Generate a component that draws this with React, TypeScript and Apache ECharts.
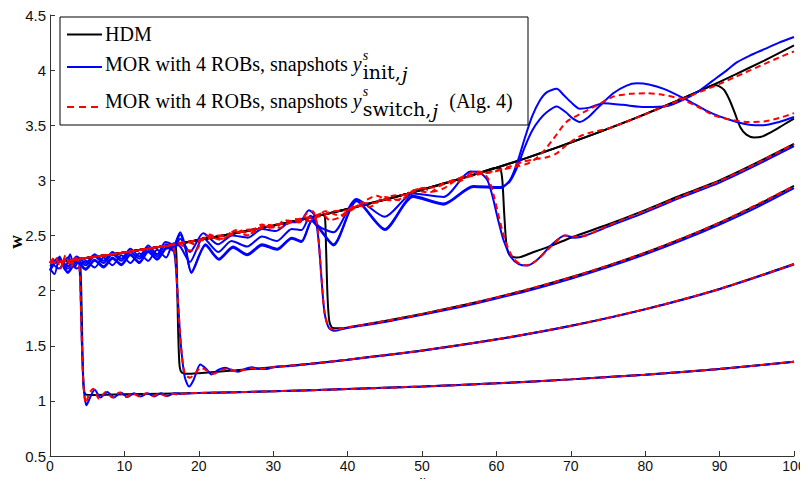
import React, { useEffect, useRef } from "react";
import * as echarts from "echarts";

// ---------- data ----------
const xTicks = [0, 10, 20, 30, 40, 50, 60, 70, 80, 90, 100];
const yTicks = [0.5, 1, 1.5, 2, 2.5, 3, 3.5, 4, 4.5];

const legendLabels = ["HDM", "MOR with 4 ROBs, snapshots ", "MOR with 4 ROBs, snapshots "];
const axisNames = { x: "x", y: "w" };

// HDM (black)
const hdmA = [[0,2.25],[2,2.268],[3.8,2.285],[4.05,2.25],[4.2,2.0],[4.35,1.5],[4.5,1.15],[4.75,1.06],[5.5,1.053],[10,1.059],[20,1.072],[30,1.087],[40,1.107],[50,1.13],[60,1.159],[70,1.195],[80,1.238],[90,1.29],[100,1.355]];
const hdmB = [[0,2.25],[4,2.287],[8,2.326],[12,2.368],[15,2.4],[16.6,2.418],[16.9,2.405],[17.05,2.2],[17.2,1.7],[17.4,1.33],[17.7,1.258],[18.5,1.245],[20,1.251],[25,1.277],[30,1.306],[35,1.337],[40,1.374],[50,1.457],[60,1.558],[70,1.681],[80,1.832],[90,2.016],[100,2.241]];
const hdmC = [[0,2.25],[4,2.287],[8,2.326],[12,2.368],[16,2.412],[20,2.459],[24,2.509],[28,2.562],[32,2.618],[35,2.663],[36.6,2.688],[36.95,2.67],[37.1,2.4],[37.3,1.95],[37.55,1.72],[38,1.66],[39,1.658],[40,1.666],[45,1.724],[50,1.789],[55,1.86],[60,1.938],[65,2.025],[70,2.121],[75,2.227],[80,2.344],[85,2.474],[90,2.617],[95,2.775],[100,2.95]];
const hdmD = [[0,2.25],[4,2.287],[8,2.326],[12,2.368],[16,2.412],[20,2.459],[24,2.509],[28,2.562],[32,2.618],[36,2.678],[40,2.741],[44,2.808],[48,2.879],[52,2.953],[56,3.032],[58,3.073],[60,3.115],[60.5,3.11],[60.8,3.0],[61.05,2.7],[61.35,2.42],[61.8,2.32],[62.8,2.3],[65,2.35],[67.5,2.41],[70,2.48],[75,2.6],[80,2.73],[85,2.87],[90,3.0],[95,3.16],[100,3.33]];
const hdmE = [[0,2.25],[4,2.287],[8,2.326],[12,2.368],[16,2.412],[20,2.459],[24,2.509],[28,2.562],[32,2.618],[36,2.678],[40,2.741],[44,2.808],[48,2.879],[52,2.953],[56,3.032],[60,3.115],[64,3.202],[68,3.295],[72,3.392],[76,3.494],[80,3.601],[84,3.714],[88,3.832],[89.3,3.865],[89.9,3.855],[90.6,3.82],[91.4,3.72],[92.1,3.6],[92.8,3.48],[93.6,3.415],[94.6,3.39],[95.6,3.395],[97,3.44],[98.5,3.5],[100,3.56]];
const hdmF = [[0,2.25],[4,2.287],[8,2.326],[12,2.368],[16,2.412],[20,2.459],[24,2.509],[28,2.562],[32,2.618],[36,2.678],[40,2.741],[44,2.808],[48,2.879],[52,2.953],[56,3.032],[60,3.115],[64,3.202],[68,3.295],[72,3.392],[76,3.494],[80,3.601],[84,3.714],[88,3.832],[92,3.957],[96,4.087],[100,4.224]];

// MOR, snapshots y_init (blue)
const romA = [[0,2.2],[0.6,2.15],[1.3,2.31],[2.0,2.19],[2.7,2.33],[3.3,2.21],[3.8,2.27],[4.05,2.1],[4.25,1.6],[4.5,1.15],[4.9,0.96],[5.45,1.04],[6.0,1.1],[6.8,1.03],[7.7,1.08],[8.6,1.03],[9.5,1.075],[10.4,1.035],[11.3,1.07],[12.2,1.04],[13.1,1.07],[14.0,1.04],[14.9,1.07],[15.8,1.045],[16.7,1.07],[17.6,1.063],[19,1.07],[20,1.072],[30,1.087],[40,1.107],[50,1.13],[60,1.159],[70,1.195],[80,1.238],[90,1.29],[100,1.355]];
const romB = [[0,2.25],[1.2,2.29],[2.4,2.22],[3.6,2.31],[4.8,2.25],[6.0,2.33],[7.2,2.27],[8.4,2.35],[9.6,2.29],[10.8,2.38],[12.0,2.31],[13.2,2.41],[14.4,2.33],[15.5,2.44],[16.3,2.42],[16.8,2.3],[17.2,1.9],[17.6,1.5],[18.1,1.22],[18.7,1.13],[19.3,1.19],[20.2,1.33],[21.0,1.29],[21.7,1.24],[22.6,1.28],[23.6,1.3],[24.5,1.275],[25.3,1.265],[26.2,1.29],[27.1,1.305],[28.1,1.29],[29.1,1.29],[30.2,1.31],[32,1.315],[35,1.335],[40,1.372],[50,1.455],[60,1.556],[70,1.679],[80,1.83],[90,2.013],[100,2.237]];
const romC = [[0,2.22],[1.2,2.27],[2.4,2.2],[3.6,2.28],[4.8,2.23],[6.0,2.31],[7.2,2.25],[8.4,2.33],[9.6,2.27],[10.8,2.35],[12.0,2.29],[13.2,2.38],[14.4,2.31],[15.6,2.42],[16.6,2.36],[17.5,2.47],[18.8,2.35],[20.6,2.52],[22.6,2.42],[24.5,2.5],[26.6,2.48],[28.5,2.56],[30.3,2.54],[32.3,2.62],[33.5,2.62],[34.8,2.73],[35.6,2.68],[36.1,2.45],[36.5,2.1],[36.9,1.8],[37.5,1.66],[38.3,1.635],[39.5,1.655],[45,1.715],[50,1.78],[55,1.85],[60,1.928],[65,2.013],[70,2.108],[75,2.213],[80,2.329],[85,2.458],[90,2.6],[95,2.756],[100,2.93]];
const romD = [[0,2.27],[1.2,2.2],[2.4,2.3],[3.6,2.2],[4.8,2.27],[6.0,2.21],[7.2,2.3],[8.4,2.23],[9.6,2.32],[10.8,2.25],[12.0,2.34],[13.2,2.27],[14.4,2.37],[15.6,2.3],[16.6,2.43],[17.5,2.4],[18.8,2.26],[20.6,2.48],[22.6,2.35],[24.4,2.45],[26.5,2.4],[28.5,2.49],[30.5,2.45],[32.5,2.56],[33.8,2.55],[35,2.68],[36.2,2.58],[38.1,2.53],[41.2,2.83],[45,2.67],[48.8,2.88],[52.9,2.85],[56.5,3.08],[57.8,3.07],[58.8,3.0],[59.5,2.85],[60.2,2.65],[61,2.45],[62,2.3],[63,2.24],[64.1,2.227],[65.5,2.28],[67.5,2.42],[69.2,2.5],[70.5,2.48],[72,2.5],[75,2.58],[80,2.71],[85,2.85],[90,2.98],[95,3.14],[100,3.31]];
const romE = [[0,2.19],[1.2,2.3],[2.4,2.17],[3.6,2.27],[4.8,2.2],[6.0,2.28],[7.2,2.22],[8.4,2.3],[9.6,2.24],[10.8,2.33],[12.0,2.26],[13.2,2.36],[14.4,2.29],[15.6,2.39],[16.6,2.4],[17.5,2.53],[18.2,2.4],[19.0,2.17],[20.9,2.42],[22.7,2.29],[24.6,2.4],[26.5,2.33],[28.5,2.42],[30.5,2.38],[32.5,2.48],[33.8,2.45],[35.2,2.64],[36.3,2.56],[38.1,2.42],[41.2,2.82],[45,2.56],[48.8,2.86],[52.9,2.79],[56.9,2.95],[60.5,2.94],[61.8,2.99],[62.8,3.12],[63.8,3.3],[64.8,3.45],[65.8,3.55],[66.8,3.62],[68.1,3.67],[69.3,3.62],[70.3,3.56],[71.2,3.53],[72.3,3.57],[73.5,3.65],[75.7,3.79],[77.5,3.86],[78.9,3.88],[80.5,3.87],[82.5,3.83],[85.6,3.73],[88,3.64],[90,3.58],[92.3,3.53],[94,3.505],[95.9,3.5],[98,3.53],[100,3.575]];
const romF = [[0,2.18],[1.2,2.29],[2.4,2.16],[3.6,2.26],[4.8,2.19],[6.0,2.27],[7.2,2.21],[8.4,2.29],[9.6,2.23],[10.8,2.32],[12.0,2.25],[13.2,2.35],[14.4,2.28],[15.6,2.38],[16.6,2.39],[17.5,2.51],[18.2,2.38],[19.0,2.16],[20.9,2.41],[22.7,2.28],[24.6,2.39],[26.5,2.32],[28.5,2.41],[30.5,2.37],[32.5,2.47],[33.8,2.44],[35.2,2.63],[36.3,2.55],[38.1,2.41],[41.2,2.81],[45,2.55],[48.8,2.85],[52.9,2.78],[56.9,2.94],[60.5,2.93],[61.8,3.0],[62.8,3.16],[63.8,3.38],[64.8,3.58],[65.8,3.72],[66.8,3.8],[68.1,3.83],[69.1,3.77],[70,3.71],[71.2,3.65],[72.5,3.66],[74.4,3.7],[77,3.685],[80,3.665],[83,3.675],[85.1,3.73],[87,3.8],[89,3.9],[91,4.0],[92.3,4.07],[94,4.13],[96,4.19],[98,4.25],[100,4.3]];

// MOR, snapshots y_switch (red dashed)
const swA = [[0,2.25],[0.7,2.31],[1.4,2.2],[2.1,2.32],[2.8,2.21],[3.4,2.3],[3.85,2.26],[4.05,2.1],[4.25,1.6],[4.5,1.15],[4.8,0.98],[5.3,1.07],[5.8,1.11],[6.6,1.02],[7.5,1.08],[8.4,1.03],[9.3,1.075],[10.2,1.035],[11.1,1.07],[12.0,1.04],[12.9,1.07],[13.8,1.045],[14.7,1.065],[15.6,1.045],[16.4,1.065],[17.2,1.058],[18.5,1.07],[20,1.072],[30,1.087],[40,1.107],[50,1.13],[60,1.159],[70,1.195],[80,1.238],[90,1.29],[100,1.355]];
const swB = [[0,2.25],[0.7,2.3],[1.4,2.22],[2.1,2.29],[2.8,2.25],[4,2.287],[8,2.326],[12,2.368],[15,2.4],[16.3,2.41],[16.8,2.33],[17.2,1.9],[17.6,1.5],[18.1,1.25],[18.8,1.21],[19.5,1.25],[20.3,1.3],[21.2,1.27],[22.0,1.245],[23.0,1.28],[24,1.29],[25,1.27],[26,1.28],[27,1.295],[28,1.29],[30,1.306],[35,1.337],[40,1.374],[50,1.457],[60,1.558],[70,1.681],[80,1.832],[90,2.016],[100,2.241]];
const swC = [[0,2.25],[4,2.287],[8,2.326],[12,2.368],[16,2.412],[17.5,2.42],[18.5,2.37],[19.5,2.36],[20.5,2.46],[21.5,2.51],[22.5,2.47],[23.5,2.47],[24.5,2.54],[25.5,2.53],[26.5,2.5],[27.5,2.56],[28.5,2.6],[29.5,2.57],[30.5,2.58],[31.5,2.64],[32.5,2.63],[33.5,2.62],[34.5,2.7],[35.3,2.72],[35.9,2.6],[36.4,2.2],[36.9,1.8],[37.5,1.665],[38.3,1.645],[39.5,1.66],[45,1.724],[50,1.789],[60,1.938],[70,2.121],[80,2.344],[90,2.617],[100,2.95]];
const swD = [[0,2.25],[4,2.287],[8,2.326],[12,2.368],[16,2.412],[20,2.459],[24,2.509],[28,2.562],[32,2.618],[35,2.66],[36.5,2.7],[37.6,2.64],[38.8,2.66],[40.3,2.72],[42,2.8],[43.9,2.86],[45.5,2.82],[47,2.83],[48.5,2.9],[50,2.93],[51.5,2.9],[53,2.93],[54.5,3.0],[56,3.05],[57.2,3.08],[58.2,3.07],[59,3.0],[59.7,2.85],[60.4,2.65],[61.2,2.45],[62.2,2.3],[63.2,2.24],[64.1,2.23],[65.5,2.28],[67.5,2.41],[69.2,2.5],[70.5,2.49],[72,2.5],[75,2.59],[80,2.725],[85,2.86],[90,2.995],[95,3.155],[100,3.33]];
const swE = [[0,2.25],[4,2.287],[8,2.326],[12,2.368],[16,2.412],[18.5,2.44],[19.5,2.42],[21,2.5],[23,2.46],[25,2.55],[27,2.52],[29,2.6],[31,2.57],[33,2.65],[35,2.63],[37,2.72],[39,2.68],[41,2.77],[43,2.76],[45,2.85],[47,2.82],[49,2.91],[51,2.89],[53,2.98],[55,2.99],[57,3.06],[59,3.07],[61,3.1],[63,3.13],[64.5,3.16],[66,3.24],[67.7,3.38],[69.4,3.53],[71.2,3.6],[73.5,3.68],[75.7,3.76],[78,3.785],[80.2,3.79],[82.5,3.775],[84.7,3.74],[87,3.67],[89.2,3.59],[91.5,3.55],[93.6,3.53],[96,3.535],[98,3.565],[100,3.61]];
const swF = [[0,2.25],[4,2.287],[8,2.326],[12,2.368],[16,2.412],[18,2.44],[20,2.45],[22,2.5],[24,2.5],[26,2.55],[28,2.56],[30,2.6],[32,2.61],[34,2.66],[36,2.67],[38,2.72],[40,2.73],[42,2.79],[44,2.8],[46,2.86],[48,2.87],[50,2.93],[52,2.94],[54,3.0],[56,3.03],[58,3.06],[60,3.09],[62,3.13],[63.6,3.17],[65,3.19],[66.8,3.21],[68.1,3.245],[69.4,3.32],[71.2,3.4],[73,3.44],[75,3.47],[78,3.545],[80,3.6],[82,3.655],[84,3.71],[86,3.765],[88,3.82],[90,3.875],[92,3.935],[94,3.995],[96,4.055],[98,4.115],[100,4.17]];

const hdmCurves = [hdmA, hdmB, hdmC, hdmD, hdmE, hdmF];
const romCurves = [romA, romB, romC, romD, romE, romF];
const swCurves = [swA, swB, swC, swD, swE, swF];

const SERIF = '"Liberation Serif", "DejaVu Serif", serif';
const WIDE_SERIF = '"DejaVu Serif", "Liberation Serif", serif';
const SANS = '"Liberation Sans", Arial, sans-serif';

function measure(text: string, font: string): number {
  const ctx = document.createElement("canvas").getContext("2d");
  if (!ctx) return text.length * 8;
  ctx.font = font;
  return ctx.measureText(text).width;
}

function txt(text: string, x: number, y: number, font: string) {
  return {
    type: "text",
    z: 101,
    style: { text, x, y, font, fill: "#000", textAlign: "left", verticalAlign: "middle", textVerticalAlign: "middle" },
  };
}

export default function App() {
  const ref = useRef<HTMLDivElement>(null);
  useEffect(() => {
    if (!ref.current) return;
    const chart = echarts.init(ref.current, null, { renderer: "svg" });

    const mainFont = `20px ${SERIF}`;
    const italicFont = `italic 20px ${SERIF}`;
    const supFont = `italic 14px ${SERIF}`;
    const subFont = `19px ${WIDE_SERIF}`;
    const subItFont = `italic 19px ${WIDE_SERIF}`;
    const tx = 105;
    const prefixW = measure(legendLabels[1], mainFont);
    const yW = measure("y", italicFont);
    const mathX = tx + prefixW;
    const subX = mathX + yW + 1;
    const initW = measure("init,", subFont);
    const switchW = measure("switch,", subFont);
    const jW = measure("j", subItFont);

    const legendGraphics: any[] = [
      { type: "rect", z: 100, shape: { x: 60, y: 17, width: 468, height: 108 }, style: { fill: "#fff", stroke: "#000", lineWidth: 1 } },
      { type: "line", z: 101, shape: { x1: 67, y1: 34.5, x2: 102, y2: 34.5 }, style: { stroke: "#000", lineWidth: 2 } },
      { type: "line", z: 101, shape: { x1: 67, y1: 67, x2: 102, y2: 67 }, style: { stroke: "#0000ff", lineWidth: 2 } },
      { type: "line", z: 101, shape: { x1: 67, y1: 107, x2: 102, y2: 107 }, style: { stroke: "#ff0000", lineWidth: 2, lineDash: [7, 5] } },
      txt(legendLabels[0], tx, 34, mainFont),
      txt(legendLabels[1], tx, 64, mainFont),
      txt("y", mathX, 64, italicFont),
      txt("s", subX, 55, supFont),
      txt("init,", subX, 72, subFont),
      txt("j", subX + initW + 1, 74, subItFont),
      txt(legendLabels[2], tx, 101, mainFont),
      txt("y", mathX, 101, italicFont),
      txt("s", subX, 91, supFont),
      txt("switch,", subX, 108.5, subFont),
      txt("j", subX + switchW + 1, 110.5, subItFont),
      txt("(Alg. 4)", subX + switchW + jW + 12, 101, mainFont),
      // axis names
      {
        type: "text",
        z: 50,
        x: 15,
        y: 242,
        rotation: Math.PI / 2,
        style: { text: axisNames.y, x: 0, y: 0, font: `bold 19px ${SERIF}`, fill: "#000", textAlign: "center", verticalAlign: "middle", textVerticalAlign: "middle" },
      },
      {
        type: "text",
        z: 50,
        style: { text: axisNames.x, x: 422, y: 480, font: `italic 14px ${SERIF}`, fill: "#000", textAlign: "center", verticalAlign: "middle", textVerticalAlign: "middle" },
      },
    ];

    const mk = (data: number[][], color: string, dashed: boolean, z: number) => ({
      type: "line",
      data,
      showSymbol: false,
      symbol: "none",
      smooth: 0.25,
      z,
      lineStyle: { color, width: 2, type: dashed ? [6, 4] : "solid" },
      emphasis: { disabled: true },
      silent: true,
    });

    const series: any[] = [
      ...hdmCurves.map((d) => mk(d, "#000000", false, 2)),
      ...romCurves.map((d) => mk(d, "#0000ff", false, 3)),
      ...swCurves.map((d) => mk(d, "#ff0000", true, 4)),
    ];

    chart.setOption({
      animation: false,
      backgroundColor: "#ffffff",
      grid: { left: 50, right: 14, top: 15, bottom: 31, containLabel: false, outerBoundsMode: "none" },
      xAxis: {
        type: "value",
        min: xTicks[0],
        max: xTicks[xTicks.length - 1],
        interval: 10,
        axisLine: { lineStyle: { color: "#333", width: 1 } },
        axisTick: { inside: true, length: 5, lineStyle: { color: "#333" } },
        axisLabel: { fontFamily: SANS, fontSize: 14, color: "#111", margin: 3 },
        splitLine: { show: false },
      },
      yAxis: {
        type: "value",
        min: yTicks[0],
        max: yTicks[yTicks.length - 1],
        interval: 0.5,
        axisLine: { show: true, lineStyle: { color: "#333", width: 1 } },
        axisTick: { show: true, inside: true, length: 5, lineStyle: { color: "#333" } },
        axisLabel: { fontFamily: SANS, fontSize: 15, color: "#111", margin: 4 },
        splitLine: { show: false },
      },
      series,
      graphic: legendGraphics,
    });

    return () => chart.dispose();
  }, []);

  return <div ref={ref} style={{ width: 808, height: 487, margin: -8 }} />;
}
